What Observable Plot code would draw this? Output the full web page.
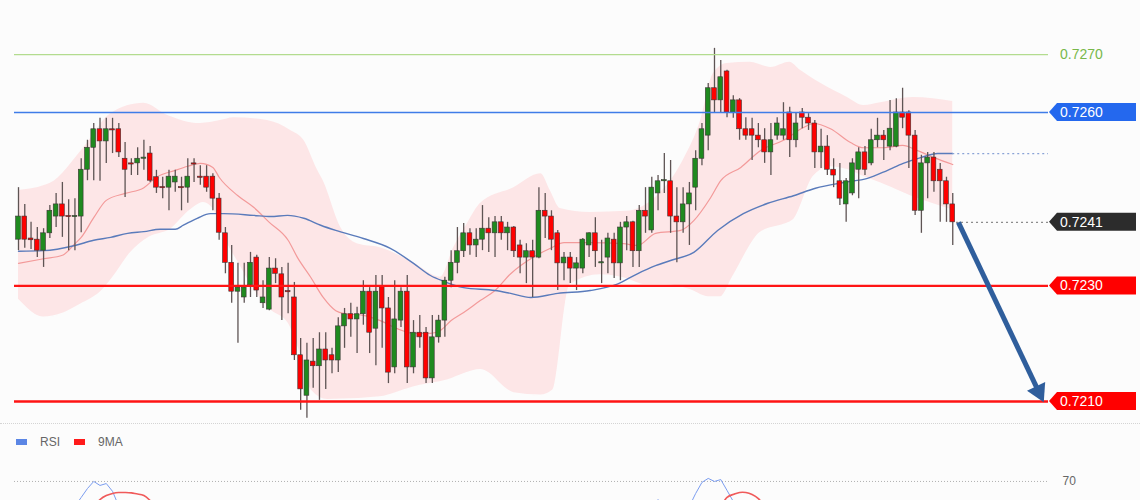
<!DOCTYPE html>
<html><head><meta charset="utf-8">
<script src="https://cdn.jsdelivr.net/npm/d3@7"></script>
<script src="https://cdn.jsdelivr.net/npm/@observablehq/plot@0.6"></script>
<style>
html,body{margin:0;padding:0;background:#fcfcfc;}
#wrap{position:relative;width:1140px;height:500px;overflow:hidden;font-family:"Liberation Sans",Arial,sans-serif;background:#fcfcfc;}
#main{position:absolute;left:0;top:0;}
#sep{position:absolute;left:0;top:423px;width:1140px;border-top:1px dotted #d4d4d4;}
#legend{position:absolute;left:16px;top:435px;font-size:12px;color:#666;display:flex;align-items:center;gap:0;}
#legend .sw{display:inline-block;width:11px;height:6px;margin-right:13px;}
#legend .lb{margin-right:14px;}
#rsi{position:absolute;left:0;top:460px;}
</style></head><body>
<div id="wrap"><div id="main"></div><div id="sep"></div><div id="legend"></div><div id="rsi"></div></div>
<script>
// ---- candle data (index 0..149) ----
const opens = [
0.72380,0.72420,0.72382,0.72380,0.72361,0.72391,0.72420,0.72441,0.72421,0.72419,
0.72420,0.72501,0.72539,0.72571,0.72550,0.72571,0.72571,0.72520,0.72512,0.72512,
0.72520,0.72529,0.72488,0.72471,0.72470,0.72479,0.72471,0.72470,0.72512,0.72489,
0.72489,0.72489,0.72451,0.72391,0.72340,0.72290,0.72280,0.72301,0.72349,0.72270,
0.72259,0.72330,0.72320,0.72291,0.72280,0.72180,0.72110,0.72169,0.72161,0.72190,
0.72180,0.72171,0.72230,0.72251,0.72242,0.72251,0.72290,0.72226,0.72299,0.72261,
0.72159,0.72240,0.72290,0.72159,0.72219,0.72219,0.72140,0.72211,0.72240,0.72309,
0.72340,0.72360,0.72391,0.72370,0.72380,0.72399,0.72391,0.72410,0.72391,0.72401,
0.72370,0.72349,0.72360,0.72349,0.72430,0.72420,0.72391,0.72339,0.72349,0.72330,
0.72330,0.72370,0.72391,0.72339,0.72349,0.72380,0.72339,0.72401,0.72410,0.72360,
0.72430,0.72396,0.72460,0.72481,0.72481,0.72420,0.72410,0.72441,0.72470,0.72520,
0.72560,0.72642,0.72621,0.72671,0.72600,0.72621,0.72571,0.72571,0.72560,0.72552,
0.72531,0.72560,0.72560,0.72600,0.72552,0.72600,0.72591,0.72581,0.72531,0.72541,
0.72501,0.72481,0.72441,0.72460,0.72501,0.72531,0.72512,0.72552,0.72560,0.72541,
0.72541,0.72600,0.72600,0.72560,0.72430,0.72512,0.72522,0.72501,0.72481,0.72441];
const highs = [
0.72470,0.72441,0.72410,0.72401,0.72399,0.72439,0.72460,0.72479,0.72449,0.72451,
0.72520,0.72552,0.72581,0.72590,0.72590,0.72590,0.72581,0.72548,0.72520,0.72539,
0.72552,0.72541,0.72500,0.72488,0.72500,0.72500,0.72488,0.72520,0.72520,0.72508,
0.72508,0.72494,0.72460,0.72401,0.72370,0.72339,0.72339,0.72358,0.72353,0.72309,
0.72349,0.72347,0.72332,0.72339,0.72306,0.72209,0.72201,0.72209,0.72219,0.72219,
0.72192,0.72245,0.72261,0.72270,0.72263,0.72309,0.72297,0.72318,0.72318,0.72280,
0.72309,0.72297,0.72318,0.72240,0.72249,0.72228,0.72249,0.72249,0.72315,0.72361,
0.72401,0.72408,0.72399,0.72399,0.72439,0.72418,0.72420,0.72420,0.72410,0.72403,
0.72379,0.72373,0.72379,0.72470,0.72460,0.72430,0.72396,0.72358,0.72358,0.72349,
0.72382,0.72392,0.72418,0.72379,0.72391,0.72391,0.72410,0.72420,0.72412,0.72439,
0.72470,0.72488,0.72491,0.72529,0.72517,0.72470,0.72470,0.72479,0.72534,0.72581,
0.72650,0.72711,0.72690,0.72673,0.72629,0.72624,0.72591,0.72590,0.72581,0.72572,
0.72581,0.72591,0.72617,0.72609,0.72600,0.72607,0.72598,0.72586,0.72571,0.72560,
0.72520,0.72512,0.72486,0.72520,0.72539,0.72541,0.72571,0.72590,0.72569,0.72621,
0.72624,0.72642,0.72603,0.72569,0.72526,0.72531,0.72531,0.72512,0.72488,0.72460];
const lows = [
0.72361,0.72365,0.72363,0.72349,0.72332,0.72382,0.72401,0.72384,0.72361,0.72361,
0.72392,0.72482,0.72482,0.72481,0.72512,0.72529,0.72522,0.72453,0.72491,0.72491,
0.72500,0.72479,0.72460,0.72451,0.72430,0.72462,0.72430,0.72443,0.72479,0.72474,
0.72462,0.72430,0.72379,0.72321,0.72270,0.72201,0.72270,0.72280,0.72280,0.72261,
0.72257,0.72304,0.72240,0.72252,0.72171,0.72085,0.72071,0.72123,0.72102,0.72121,
0.72148,0.72150,0.72192,0.72211,0.72183,0.72232,0.72183,0.72162,0.72192,0.72131,
0.72148,0.72228,0.72131,0.72148,0.72192,0.72131,0.72131,0.72201,0.72211,0.72297,
0.72321,0.72349,0.72353,0.72349,0.72361,0.72358,0.72349,0.72379,0.72361,0.72349,
0.72321,0.72304,0.72280,0.72347,0.72382,0.72361,0.72292,0.72309,0.72304,0.72292,
0.72321,0.72349,0.72332,0.72304,0.72321,0.72313,0.72309,0.72361,0.72332,0.72332,
0.72391,0.72391,0.72430,0.72460,0.72391,0.72340,0.72391,0.72370,0.72430,0.72508,
0.72534,0.72600,0.72600,0.72591,0.72590,0.72552,0.72552,0.72517,0.72539,0.72512,
0.72491,0.72552,0.72552,0.72522,0.72539,0.72572,0.72569,0.72503,0.72503,0.72491,
0.72470,0.72439,0.72410,0.72456,0.72451,0.72491,0.72508,0.72539,0.72517,0.72534,
0.72539,0.72572,0.72503,0.72422,0.72391,0.72451,0.72462,0.72410,0.72410,0.72370];
const closes = [
0.72420,0.72380,0.72379,0.72361,0.72391,0.72430,0.72441,0.72420,0.72419,0.72421,
0.72501,0.72539,0.72571,0.72550,0.72571,0.72569,0.72531,0.72501,0.72510,0.72520,
0.72522,0.72482,0.72470,0.72469,0.72489,0.72489,0.72469,0.72489,0.72510,0.72487,
0.72470,0.72451,0.72392,0.72340,0.72290,0.72297,0.72297,0.72340,0.72292,0.72280,
0.72330,0.72321,0.72280,0.72289,0.72180,0.72121,0.72171,0.72161,0.72190,0.72171,
0.72171,0.72230,0.72251,0.72242,0.72251,0.72290,0.72219,0.72290,0.72261,0.72150,
0.72242,0.72290,0.72159,0.72219,0.72211,0.72140,0.72211,0.72240,0.72309,0.72340,
0.72360,0.72391,0.72370,0.72380,0.72399,0.72391,0.72410,0.72391,0.72401,0.72360,
0.72349,0.72360,0.72349,0.72430,0.72420,0.72380,0.72339,0.72349,0.72330,0.72339,
0.72380,0.72391,0.72360,0.72341,0.72382,0.72339,0.72401,0.72410,0.72360,0.72430,
0.72420,0.72470,0.72481,0.72483,0.72420,0.72410,0.72441,0.72460,0.72520,0.72571,
0.72642,0.72621,0.72661,0.72600,0.72621,0.72571,0.72560,0.72560,0.72552,0.72531,
0.72552,0.72581,0.72571,0.72552,0.72581,0.72591,0.72581,0.72531,0.72541,0.72501,
0.72491,0.72451,0.72481,0.72512,0.72531,0.72501,0.72552,0.72560,0.72552,0.72572,
0.72600,0.72591,0.72560,0.72430,0.72512,0.72522,0.72481,0.72481,0.72441,0.72410];

// ---- 20-period MA (red), slow MA (blue), Bollinger bands, read at candle indexes ----
const midIdx = [0,4,7,9,10,12,14,17,20,22,25,27,29,31,32,35,37.5,40,43,44.5,46.6,48.6,50.6,52,55,57.7,60.4,63,65.7,67.3,69,71,73.7,76,78.5,82,85,87,91,96.5,98.7,101.6,105.6,107.7,110.4,112,115.2,118.3,122,125.2,126.8,129.5,132.7,134.8,138,141,143.4,146,149];
const midVal = [0.72339,0.72347,0.72353,0.72373,0.72384,0.72418,0.72448,0.72460,0.72470,0.72488,0.72500,0.72507,0.72512,0.72505,0.72488,0.72456,0.72436,0.72410,0.72379,0.72349,0.72315,0.72280,0.72257,0.72252,0.72249,0.72240,0.72226,0.72218,0.72218,0.72223,0.72240,0.72254,0.72275,0.72292,0.72321,0.72349,0.72366,0.72375,0.72375,0.72373,0.72370,0.72391,0.72396,0.72413,0.72453,0.72482,0.72505,0.72534,0.72552,0.72574,0.72581,0.72572,0.72548,0.72539,0.72539,0.72543,0.72534,0.72522,0.72510];
const slowIdx = [0,4,9,12,14.7,17.4,20,22.6,25,26.3,28.5,30.6,32.7,37.5,40.2,42.9,45.5,48.2,50.6,55,59.3,63,65.7,67.8,71,76,78.5,81.7,86,91.2,95.5,98.7,101.6,104,107.7,111.5,115.6,119.5,123.6,127.1,131.6,135.4,138.6,141.1,143.9,146.6,149];
const slowVal = [0.72360,0.72361,0.72370,0.72379,0.72384,0.72391,0.72394,0.72398,0.72398,0.72405,0.72417,0.72425,0.72425,0.72422,0.72420,0.72422,0.72417,0.72405,0.72396,0.72382,0.72365,0.72339,0.72318,0.72308,0.72297,0.72292,0.72287,0.72280,0.72287,0.72292,0.72303,0.72321,0.72335,0.72344,0.72358,0.72396,0.72425,0.72443,0.72456,0.72469,0.72479,0.72486,0.72500,0.72512,0.72522,0.72529,0.72529];
const upIdx = [0,5,10.4,14.7,20,23.8,29,32.2,34.3,39.7,43.4,45.5,47.7,48.6,51.4,54,57.7,63,67.3,69.4,71.6,73.7,79,83.3,84.8,86.4,91.2,97,101.6,106,108.8,110.8,113,116.7,120,123,124.7,128,132.2,134.8,137.5,142.7,149];
const upVal = [0.72465,0.72477,0.72539,0.72598,0.72616,0.72595,0.72581,0.72586,0.72591,0.72586,0.72569,0.72552,0.72500,0.72482,0.72401,0.72373,0.72366,0.72340,0.72315,0.72366,0.72408,0.72443,0.72470,0.72494,0.72465,0.72434,0.72427,0.72429,0.72453,0.72517,0.72586,0.72667,0.72685,0.72687,0.72678,0.72687,0.72673,0.72650,0.72626,0.72612,0.72617,0.72626,0.72619];
const loIdx = [0,4,7.2,10.4,13,15.2,17.9,21,24.2,27.4,29.5,31.1,32.7,35,37.5,40.2,42.9,44.5,46.6,49.3,57.7,63,68.4,73.7,79,83.3,85.3,88,92.8,96.5,100,103.2,107.2,110,112,114,118.3,123.6,126.8,129.5,132.2,134.8,137.5,142.7,149];
const loVal = [0.72275,0.72245,0.72252,0.72270,0.72287,0.72315,0.72356,0.72384,0.72396,0.72430,0.72443,0.72430,0.72384,0.72339,0.72292,0.72257,0.72235,0.72193,0.72119,0.72102,0.72107,0.72124,0.72136,0.72154,0.72114,0.72110,0.72119,0.72301,0.72318,0.72313,0.72301,0.72301,0.72292,0.72280,0.72280,0.72315,0.72391,0.72413,0.72488,0.72505,0.72500,0.72488,0.72477,0.72453,0.72430];

// ---- levels ----
const levelVals = [0.7270, 0.7260, 0.7230, 0.7210];
const levelText = ["0.7270", "0.7260", "0.7230", "0.7210"];
const target = 0.7210;
const arrowEnd = {i: 162.7, v: 0.72117};

// ---- RSI panel (only the top is visible) ----
const rsiIdx = [9,10,11,12,13,14,15,16,16.5,101,102,103,103.5,107,108,109,110,111,112,113,114,115];
const rsiVal = [57,61.6,66.3,70,67.9,68.9,64.8,57,NaN,57,60.5,57,NaN,57,63.7,69.5,71.6,70,71,65.3,59.5,55];
const maIdx = [12,13,14,15,16,17,18,19,20,21,22,22.5,112,113,114,115,116,117,118,119];
const maVal = [57,60.5,62.6,63.7,64.2,64.2,64,63.4,62.6,60,57,NaN,57,61.6,63.2,64.2,64.2,63.2,61,57];
const rsiLevel = 70;

// ---------------------------------------------------------
const BG = "#fcfcfc", GREEN = "#1f8a1f", RED = "#ff0000";
const FONT = "Liberation Sans, Arial, sans-serif";
const xMin = -0.638, xMax = 164.27;
const yMin = 0.720585, yMax = 0.727938;
const last = closes.length - 1;
const candles = opens.map((o, i) => ({i, o, h: highs[i], l: lows[i], c: closes[i]}));
const pts = (a, b) => a.map((i, k) => ({i, v: b[k]}));
const mid = pts(midIdx, midVal), slow = pts(slowIdx, slowVal);
const upper = pts(upIdx, upVal), lower = pts(loIdx, loVal);

const main = Plot.plot({
  width: 1140, height: 425,
  marginLeft: 14, marginRight: 92, marginTop: 0, marginBottom: 0,
  x: {domain: [xMin, xMax], axis: null},
  y: {domain: [yMin, yMax], axis: null},
  style: {background: "transparent", fontFamily: FONT},
  marks: [
    Plot.areaY(upper, {x: "i", y1: yMin, y2: "v", fill: "#fde6e7", curve: "monotone-x"}),
    Plot.areaY(lower, {x: "i", y1: yMin, y2: "v", fill: BG, stroke: BG, strokeWidth: 1.5, curve: "monotone-x"}),
    Plot.line(mid, {x: "i", y: "v", stroke: "#f39a9a", strokeWidth: 1.2, curve: "monotone-x"}),
    Plot.line(slow, {x: "i", y: "v", stroke: "#5a7bbb", strokeWidth: 1.4, curve: "monotone-x"}),
    Plot.ruleY([slowVal[slowVal.length - 1]], {x1: slowIdx[slowIdx.length - 1], x2: xMax, stroke: "#8aa3d6", strokeWidth: 1.2, strokeDasharray: "2,3"}),
    Plot.ruleY([closes[last]], {x1: last + 0.6, x2: xMax, stroke: "#8c8c8c", strokeWidth: 1.2, strokeDasharray: "2,3"}),
    Plot.ruleX(candles, {x: "i", y1: "l", y2: "h", stroke: "#5e5454", strokeWidth: 1.3}),
    Plot.rect(candles, {x1: d => d.i - 0.38, x2: d => d.i + 0.38, y1: "o", y2: "c",
      fill: d => d.c >= d.o ? GREEN : RED, stroke: "#3b3434", strokeWidth: 0.6}),
    Plot.ruleY([levelVals[0]], {stroke: "#b3dc8f", strokeWidth: 1.2}),
    Plot.ruleY([levelVals[1]], {stroke: "#3f7ce8", strokeWidth: 1.6}),
    Plot.ruleY([levelVals[2]], {stroke: "#ff1414", strokeWidth: 2.4}),
    Plot.ruleY([levelVals[3]], {stroke: "#ff1414", strokeWidth: 2.4}),
    Plot.link([{x1: last + 0.9, y1: closes[last], x2: arrowEnd.i, y2: arrowEnd.v}],
      {x1: "x1", y1: "y1", x2: "x2", y2: "y2", stroke: "#2f5e9c", strokeWidth: 5}),
    Plot.dot([arrowEnd], {x: "i", y: "v", symbol: "triangle", r: 7.5, fill: "#2f5e9c", rotate: 154})
  ]
});
document.getElementById("main").appendChild(main);

// right-side price tags
const ys = main.scale("y");
const yOf = v => ys.apply ? ys.apply(v) : d3.scaleLinear(ys.domain, ys.range)(v);
const svg = d3.select(main);
const tags = [
  {v: levelVals[1], t: levelText[1], fill: "#2468ee"},
  {v: closes[last], t: closes[last].toFixed(4), fill: "#2c2c2c"},
  {v: levelVals[2], t: levelText[2], fill: "#ff0000"},
  {v: levelVals[3], t: levelText[3], fill: "#ff0000"}
];
const g = svg.append("g").attr("text-anchor", "start");
tags.forEach(d => {
  const y = yOf(d.v);
  g.append("polygon")
    .attr("points", `1049,${y} 1057,${y - 9} 1136,${y - 9} 1136,${y + 9} 1057,${y + 9}`)
    .attr("fill", d.fill);
  g.append("text").attr("x", 1060).attr("y", y).attr("dy", "0.36em")
    .attr("text-anchor", "start")
    .attr("fill", "#fff").attr("font-size", 14).attr("font-family", FONT)
    .text(d.t);
});
g.append("text").attr("x", 1060).attr("y", yOf(levelVals[0])).attr("dy", "0.36em")
  .attr("text-anchor", "start")
  .attr("fill", "#78b84a").attr("font-size", 14).attr("font-family", FONT)
  .text(levelText[0]);

// legend
document.getElementById("legend").innerHTML =
  '<span class="sw" style="background:#5b86e5"></span><span class="lb">RSI</span>' +
  '<span class="sw" style="background:#ff1a1a"></span><span class="lb">9MA</span>';

// RSI panel
const rsiPlot = Plot.plot({
  width: 1140, height: 40,
  marginLeft: 14, marginRight: 92, marginTop: 0, marginBottom: 0,
  x: {domain: [xMin, xMax], axis: null},
  y: {domain: [60, 81], axis: null},
  style: {background: "transparent", overflow: "visible", fontFamily: FONT},
  marks: [
    Plot.ruleY([rsiLevel], {stroke: "#b0b0b0", strokeDasharray: "1,2"}),
    Plot.line(pts(rsiIdx, rsiVal), {x: "i", y: "v", stroke: "#7b9df0", strokeWidth: 1}),
    Plot.line(pts(maIdx, maVal), {x: "i", y: "v", stroke: "#f05a5a", strokeWidth: 1.6, curve: "natural"}),
    Plot.text([rsiLevel], {x: xMax, y: d => d, text: d => String(d), dx: 14, textAnchor: "start", fill: "#666", fontSize: 12})
  ]
});
document.getElementById("rsi").appendChild(rsiPlot);
</script>
</body></html>
